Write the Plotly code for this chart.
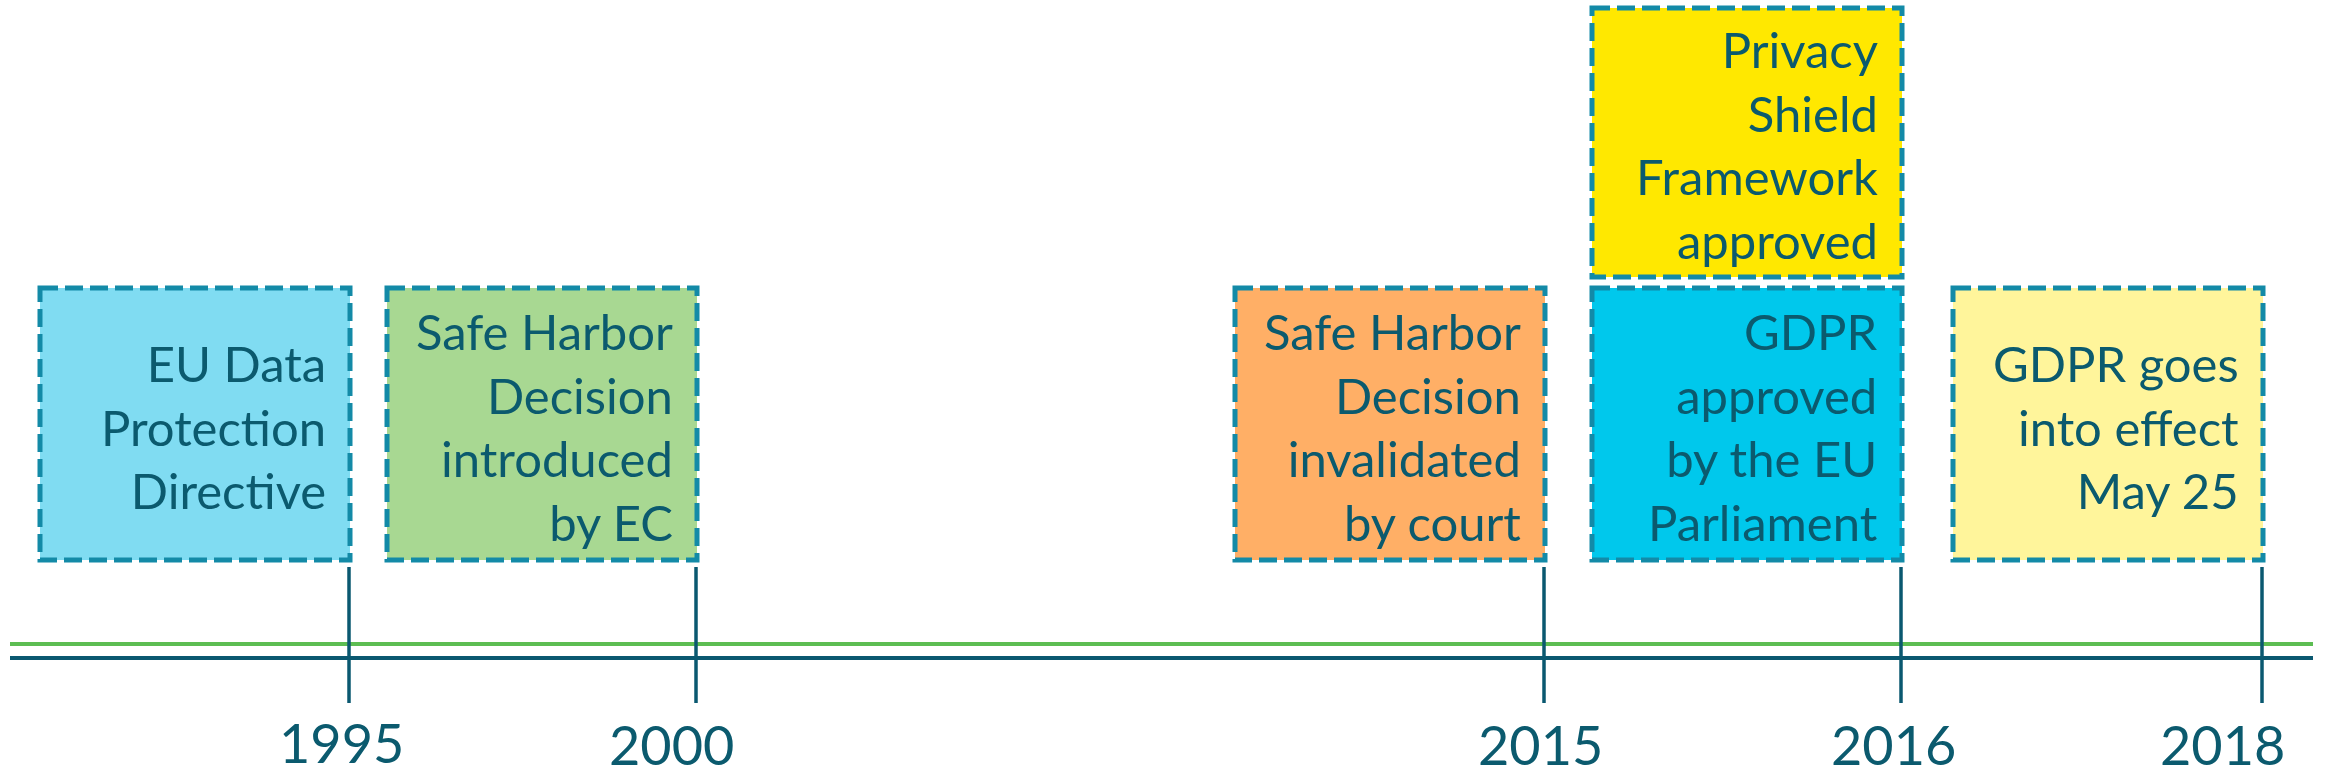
import plotly.graph_objects as go

# ---------------- data ----------------
event_years = ["1995", "2000", "2015", "2016", "2016", "2018"]
event_texts = [
    "EU Data<br>Protection<br>Directive",
    "Safe Harbor<br>Decision<br>introduced<br>by EC",
    "Safe Harbor<br>Decision<br>invalidated<br>by court",
    "GDPR<br>approved<br>by the EU<br>Parliament",
    "Privacy<br>Shield<br>Framework<br>approved",
    "GDPR goes<br>into effect<br>May 25",
]
tick_labels = ["1995", "2000", "2015", "2016", "2018"]

# ---------------- layout / positions (pixel-like axis units) ----------------
tick_pos = [349, 696, 1544, 1901, 2262]          # x of each year tick
label_pos = [341, 671, 1540, 1893, 2222]         # centre x of the year labels
label_y = [742, 744, 744, 744, 744]
event_tier = [0, 0, 0, 0, 1, 0]                  # 0 = lower row, 1 = upper row
tier_top = [288, 8]
tier_bottom = [560, 277]
box_width = 310
text_pad = 22

fill_colors = ["#80DCF2", "#A8D892", "#FFAF66", "#00C8EC", "#FFE800", "#FFF59B"]
border_color = "#138AA7"
text_color = "#0B5A6E"
green_line = "#5CBD52"
dark_line = "#0A5870"

W, H = 2325, 776
FONT = "Lato, 'Open Sans', sans-serif"

fig = go.Figure()

# timeline lines
fig.add_trace(go.Scatter(x=[10, 2313], y=[644, 644], mode="lines",
                         line=dict(color=green_line, width=4), hoverinfo="skip"))
fig.add_trace(go.Scatter(x=[10, 2313], y=[658, 658], mode="lines",
                         line=dict(color=dark_line, width=4), hoverinfo="skip"))

# year ticks
tx, ty = [], []
for p in tick_pos:
    tx += [p, p, None]
    ty += [567, 703, None]
fig.add_trace(go.Scatter(x=tx, y=ty, mode="lines",
                         line=dict(color=dark_line, width=3.5), hoverinfo="skip"))

# year labels
for lab, lx, ly in zip(tick_labels, label_pos, label_y):
    fig.add_annotation(x=lx, y=ly, text=lab, showarrow=False,
                       xanchor="center", yanchor="middle",
                       font=dict(family=FONT, size=54, color=text_color))

# event boxes
for yr, txt, col, tier in zip(event_years, event_texts, fill_colors, event_tier):
    right = tick_pos[tick_labels.index(yr)] + 1
    left = right - box_width
    top, bottom = tier_top[tier], tier_bottom[tier]
    fig.add_shape(type="rect", xref="x", yref="y",
                  x0=left, x1=right, y0=top, y1=bottom,
                  fillcolor=col,
                  line=dict(color=border_color, width=5, dash="18px,7px"),
                  layer="below")
    fig.add_annotation(x=right - text_pad, y=(top + bottom) / 2 + 2, text=txt,
                       showarrow=False, xanchor="right", yanchor="middle",
                       align="right",
                       font=dict(family=FONT, size=49, color=text_color))

fig.update_layout(
    width=W, height=H,
    margin=dict(l=0, r=0, t=0, b=0),
    paper_bgcolor="white", plot_bgcolor="white",
    showlegend=False,
    xaxis=dict(range=[0, W], visible=False, fixedrange=True),
    yaxis=dict(range=[H, 0], visible=False, fixedrange=True),
)

fig.write_html("out.html", config={"displayModeBar": False},
               post_script="document.body.style.margin='0';document.body.style.overflow='hidden';")
